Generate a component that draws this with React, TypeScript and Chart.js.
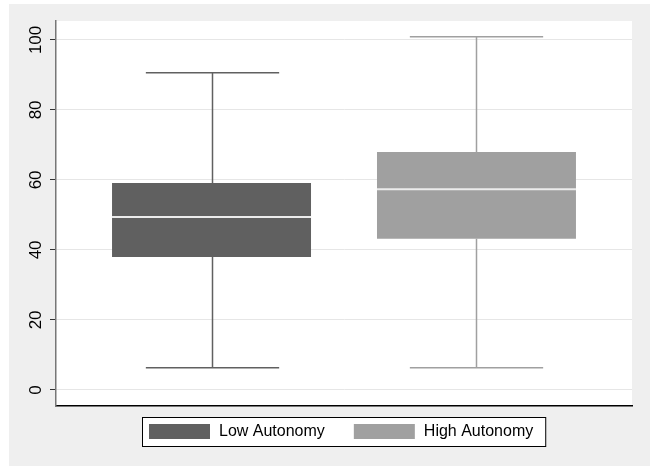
import React, { useEffect, useRef } from "react";
import { Chart, registerables } from "chart.js";

Chart.register(...registerables);

const groups = ["Low Autonomy", "High Autonomy"];
const colors = ["#606060", "#a0a0a0"];
const lowerWhisker = [6.3, 6.3];
const q1 = [38.0, 43.2];
const median = [49.4, 57.3];
const q3 = [59.1, 68.0];
const upperWhisker = [90.6, 100.9];
const yTicks = [0, 20, 40, 60, 80, 100];

const FONT = "'Liberation Sans', Arial, Helvetica, sans-serif";

const bgPlugin = {
  id: "bgPlugin",
  beforeDraw(chart: any) {
    const { ctx, chartArea } = chart;
    ctx.save();
    ctx.fillStyle = "#efefef";
    ctx.fillRect(9, 4, chart.width - 9, chart.height - 4);
    ctx.fillStyle = "#ffffff";
    ctx.fillRect(chartArea.left, chartArea.top, chartArea.right - chartArea.left, chartArea.bottom - chartArea.top);
    ctx.restore();
  },
};

const boxPlugin = {
  id: "boxPlugin",
  afterDatasetsDraw(chart: any) {
    const { ctx } = chart;
    const y = chart.scales.y;
    chart.data.datasets.forEach((ds: any, i: number) => {
      const meta = chart.getDatasetMeta(i);
      const bar: any = meta.data[0];
      if (!bar) return;
      const cx = Math.round(bar.x) + 0.5;
      const w = bar.width;
      const capHalf = (w * 0.67) / 2;
      const col = colors[i];
      ctx.save();
      ctx.strokeStyle = col;
      ctx.lineWidth = 1.5;
      const yHi = y.getPixelForValue(upperWhisker[i]);
      const yQ3 = y.getPixelForValue(q3[i]);
      const yQ1 = y.getPixelForValue(q1[i]);
      const yLo = y.getPixelForValue(lowerWhisker[i]);
      ctx.beginPath();
      ctx.moveTo(cx, yHi);
      ctx.lineTo(cx, yQ3);
      ctx.moveTo(cx, yQ1);
      ctx.lineTo(cx, yLo);
      ctx.moveTo(cx - capHalf, yHi);
      ctx.lineTo(cx + capHalf, yHi);
      ctx.moveTo(cx - capHalf, yLo);
      ctx.lineTo(cx + capHalf, yLo);
      ctx.stroke();
      const yMed = y.getPixelForValue(median[i]);
      ctx.strokeStyle = "#ececec";
      ctx.lineWidth = 2;
      ctx.beginPath();
      ctx.moveTo(bar.x - w / 2, yMed);
      ctx.lineTo(bar.x + w / 2, yMed);
      ctx.stroke();
      ctx.restore();
    });
  },
};

const legendPlugin = {
  id: "customLegend",
  afterDraw(chart: any) {
    const { ctx, chartArea } = chart;
    ctx.save();
    ctx.font = `16px ${FONT}`;
    const sw = 61;
    const sh = 15;
    const gap = 9;
    const itemGap = 29;
    const padL = 7;
    const padR = 12;
    const ds = chart.data.datasets;
    const widths = ds.map((d: any) => ctx.measureText(d.label).width);
    let total = padL + padR;
    widths.forEach((tw: number, i: number) => {
      total += sw + gap + tw + (i > 0 ? itemGap : 0);
    });
    const center = (chartArea.left + chartArea.right) / 2;
    const left = Math.round(center - total / 2);
    const top = 417;
    const height = 29;
    ctx.fillStyle = "#ffffff";
    ctx.fillRect(left, top, total, height);
    ctx.strokeStyle = "#000000";
    ctx.lineWidth = 1;
    ctx.strokeRect(left + 0.5, top + 0.5, total, height);
    let x = left + padL;
    ds.forEach((d: any, i: number) => {
      ctx.fillStyle = d.backgroundColor;
      ctx.fillRect(x, top + 7, sw, sh);
      x += sw + gap;
      ctx.fillStyle = "#000000";
      ctx.textBaseline = "middle";
      ctx.textAlign = "left";
      ctx.fillText(d.label, x, top + 7 + sh / 2 + 0.5);
      x += widths[i] + itemGap;
    });
    ctx.restore();
  },
};

export default function App() {
  const ref = useRef<HTMLCanvasElement | null>(null);
  useEffect(() => {
    if (!ref.current) return;
    const chart = new Chart(ref.current, {
      type: "bar",
      data: {
        labels: [""],
        datasets: groups.map((g, i) => ({
          label: g,
          data: [[q1[i], q3[i]]] as any,
          backgroundColor: colors[i],
          borderWidth: 0,
          categoryPercentage: 0.92,
          barPercentage: 0.751,
        })),
      },
      options: {
        animation: false,
        responsive: false,
        devicePixelRatio: 1,
        layout: { padding: { left: 0, top: 21, right: 18, bottom: 60 } },
        plugins: {
          legend: { display: false },
          tooltip: { enabled: false },
        },
        scales: {
          x: {
            grid: { display: false },
            ticks: { display: false },
            border: { display: true, color: "#000000", width: 1.5 },
            afterFit(scale: any) {
              scale.height = 0;
            },
          },
          y: {
            min: -4.6,
            max: 105.4,
            afterBuildTicks(scale: any) {
              scale.ticks = yTicks.map((v) => ({ value: v }));
            },
            afterFit(scale: any) {
              scale.width = 56;
            },
            grid: {
              color: "#e6e6e6",
              lineWidth: 1,
              tickLength: 6,
              tickColor: "#333333",
              drawTicks: true,
            },
            border: { display: true, color: "#777777", width: 1.5 },
            ticks: {
              minRotation: 90,
              maxRotation: 90,
              crossAlign: "center",
              padding: 0,
              color: "#000000",
              font: { family: FONT, size: 17 },
            },
          },
        },
      },
      plugins: [bgPlugin, boxPlugin, legendPlugin],
    });
    return () => chart.destroy();
  }, []);
  return (
    <div style={{ position: "fixed", left: 0, top: 0, width: 650, height: 466 }}>
      <canvas ref={ref} width={650} height={466} style={{ width: 650, height: 466, display: "block" }} />
    </div>
  );
}
